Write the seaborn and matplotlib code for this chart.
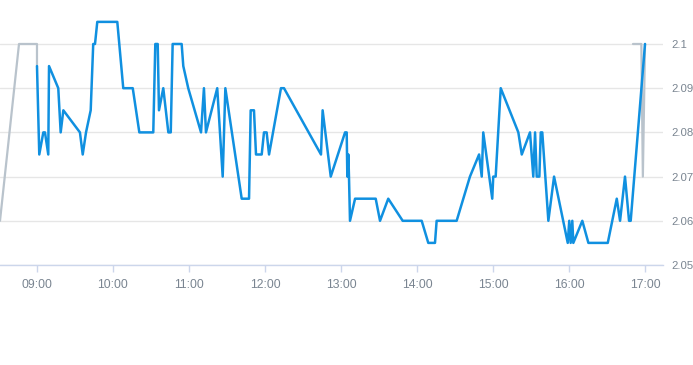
import matplotlib
matplotlib.use("Agg")
import matplotlib.pyplot as plt
import seaborn as sns
import pandas as pd

# minutes after 09:00
main_minutes = [0, 1.8, 5, 6.3, 8.9, 9.5, 16.8, 18.7, 20.8, 33.9, 36.1, 38.7, 42.4, 44.4, 45.8, 47.6,
                63.4, 68.1, 75.6, 80.8, 91.8, 93.4, 95.3, 96.3, 99.7, 103.7, 105.6, 107.1, 114.2, 115.5,
                119.4, 129.5, 131.8, 133.4, 142.3, 146.6, 148.7, 161.6, 167.4, 168.7, 171.3, 172.9, 177.4,
                179.2, 181.3, 183.2, 192.6, 195, 224.2, 225.5, 231.9, 243.2, 244.5, 245, 245.8, 246.3,
                247.1, 251.1, 267.4, 270.8, 277.3, 288.7, 303.7, 308.9, 314.2, 315.5, 331.3, 341.8, 349,
                351.1, 352.3, 359.4, 360.2, 362.1, 366.1, 380, 382.7, 389.2, 391.8, 393.2, 394.5, 396.6,
                397.7, 398.9, 403.7, 408.2, 419, 420.2, 421.3, 422.6, 423.4, 430.5, 435.3, 450.6, 457.7,
                460.3, 464.2, 467.4, 468.7, 480]
main_price = [2.095, 2.075, 2.08, 2.08, 2.075, 2.095, 2.09, 2.08, 2.085, 2.08, 2.075, 2.08, 2.085, 2.1, 2.1, 2.105,
              2.105, 2.09, 2.09, 2.08, 2.08, 2.1, 2.1, 2.085, 2.09, 2.08, 2.08, 2.1, 2.1, 2.095,
              2.09, 2.08, 2.09, 2.08, 2.09, 2.07, 2.09, 2.065, 2.065, 2.085, 2.085, 2.075, 2.075,
              2.08, 2.08, 2.075, 2.09, 2.09, 2.075, 2.085, 2.07, 2.08, 2.08, 2.07, 2.075, 2.07,
              2.06, 2.065, 2.065, 2.06, 2.065, 2.06, 2.06, 2.055, 2.055, 2.06, 2.06, 2.07, 2.075,
              2.07, 2.08, 2.065, 2.07, 2.07, 2.09, 2.08, 2.075, 2.08, 2.07, 2.08, 2.07, 2.07,
              2.08, 2.08, 2.06, 2.07, 2.055, 2.06, 2.055, 2.06, 2.055, 2.06, 2.055, 2.055, 2.065,
              2.06, 2.07, 2.06, 2.06, 2.1]

pre_minutes = [-29.2, -14.2, 0, 0]
pre_price = [2.06, 2.1, 2.1, 2.095]
post_minutes = [470.5, 477.1, 478.3, 480]
post_price = [2.1, 2.1, 2.07, 2.1]

tick_minutes = [0, 60, 120, 180, 240, 300, 360, 420, 480]
tick_labels = ["09:00", "10:00", "11:00", "12:00", "13:00", "14:00", "15:00", "16:00", "17:00"]
y_ticks = [2.05, 2.06, 2.07, 2.08, 2.09, 2.1]
y_labels = ["2.05", "2.06", "2.07", "2.08", "2.09", "2.1"]

sns.set_style("white")
plt.rcParams['font.family'] = ['Liberation Sans', 'DejaVu Sans']

fig = plt.figure(figsize=(6.93, 3.65), dpi=100)
ax = fig.add_axes([0, 1 - 265 / 365, 663 / 693, 265 / 365])

main_df = pd.DataFrame({"t": main_minutes, "p": main_price})
pre_df = pd.DataFrame({"t": pre_minutes, "p": pre_price})
post_df = pd.DataFrame({"t": post_minutes, "p": post_price})

grey = "#b9c3cc"
blue = "#1090e0"
sns.lineplot(data=pre_df, x="t", y="p", ax=ax, color=grey, lw=1.6, sort=False, estimator=None)
sns.lineplot(data=post_df, x="t", y="p", ax=ax, color=grey, lw=1.6, sort=False, estimator=None)
sns.lineplot(data=main_df, x="t", y="p", ax=ax, color=blue, lw=1.8, sort=False, estimator=None)

ax.set_xlim(-29.2, 494.2)
ax.set_ylim(2.05, 2.10995)
ax.set_xticks(tick_minutes)
ax.set_xticklabels(tick_labels)
ax.set_yticks(y_ticks)
ax.set_yticklabels(y_labels)
ax.yaxis.tick_right()
ax.set_xlabel("")
ax.set_ylabel("")

ax.grid(axis="y", color="#e6e6e6", lw=1)
ax.grid(axis="x", visible=False)
for s in ["top", "left", "right"]:
    ax.spines[s].set_visible(False)
ax.spines["bottom"].set_color("#ccd6eb")
ax.spines["bottom"].set_linewidth(1)

ax.tick_params(axis="x", length=5, width=1, color="#ccd6eb", labelsize=8.8,
               labelcolor="#7a8591", pad=5, bottom=True)
ax.tick_params(axis="y", length=0, labelsize=8.2, labelcolor="#7a8591", pad=6, right=True)

fig.savefig("out.png", dpi=100)
